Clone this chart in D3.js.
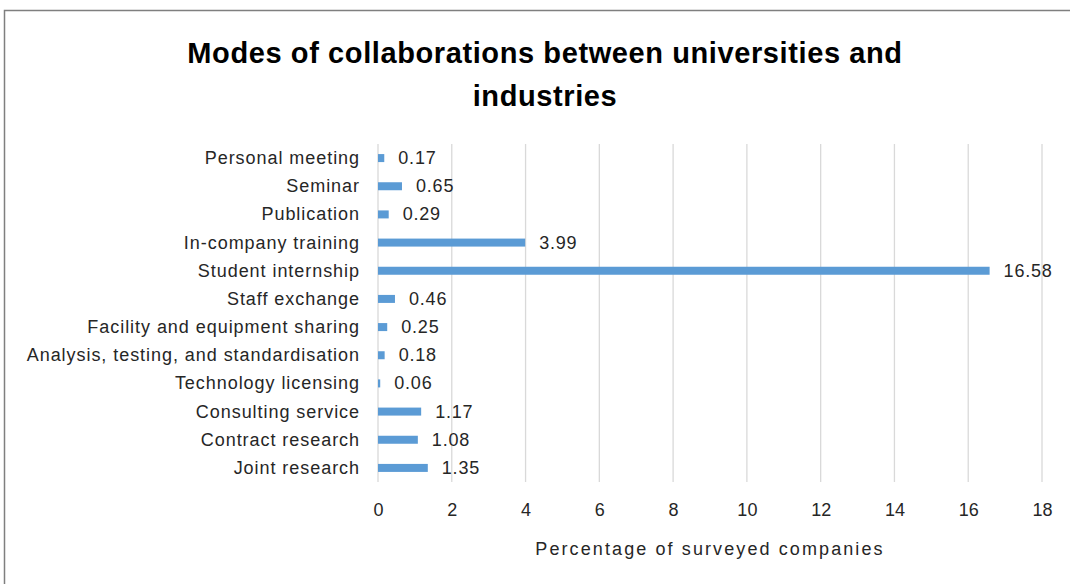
<!DOCTYPE html>
<html><head><meta charset="utf-8">
<script src="https://cdn.jsdelivr.net/npm/d3@7"></script>
<style>body{margin:0;background:#fff}svg{display:block}</style>
</head><body>
<script>
const categories = ["Personal meeting","Seminar","Publication","In-company training","Student internship","Staff exchange","Facility and equipment sharing","Analysis, testing, and standardisation","Technology licensing","Consulting service","Contract research","Joint research"];
const values = [0.17,0.65,0.29,3.99,16.58,0.46,0.25,0.18,0.06,1.17,1.08,1.35];
const xTicks = [0,2,4,6,8,10,12,14,16,18];
const titleLines = ["Modes of collaborations between universities and","industries"];
const xTitle = "Percentage of surveyed companies";

const W=1070,H=584;
const svg=d3.select("body").append("svg").attr("width",W).attr("height",H);
svg.append("rect").attr("x",4.5).attr("y",10.5).attr("width",1070).attr("height",600).attr("fill","#fff").attr("stroke","#7f7f7f").attr("stroke-width",1.5);

const font="'Liberation Sans', Arial, sans-serif";
const x=d3.scaleLinear().domain([0,18]).range([378,1042]);
const y=d3.scaleBand().domain(categories).range([144,482]).paddingInner(0.72).paddingOuter(0.36);

// title
svg.selectAll("text.title").data(titleLines).enter().append("text")
 .attr("x",545).attr("y",(d,i)=>63+i*43).attr("text-anchor","middle")
 .attr("font-family",font).attr("font-weight","bold").attr("font-size",29).attr("letter-spacing",0.6).attr("fill","#000")
 .text(d=>d);

// gridlines
svg.append("g").selectAll("line").data(xTicks).enter().append("line")
 .attr("x1",d=>x(d)).attr("x2",d=>x(d)).attr("y1",144).attr("y2",482)
 .attr("stroke","#d9d9d9").attr("stroke-width",1.3);

// bars
svg.append("g").selectAll("rect").data(values).enter().append("rect")
 .attr("x",x(0)).attr("y",(d,i)=>y(categories[i])+y.bandwidth()/2-4)
 .attr("width",d=>x(d)-x(0)).attr("height",8).attr("fill","#5b9bd5");

// value labels
svg.append("g").selectAll("text").data(values).enter().append("text")
 .attr("x",d=>x(d)+14).attr("y",(d,i)=>y(categories[i])+y.bandwidth()/2+6)
 .attr("font-family",font).attr("font-size",18).attr("letter-spacing",0.8).attr("fill","#262626")
 .text(d=>d.toFixed(2));

// category labels
svg.append("g").selectAll("text").data(categories).enter().append("text")
 .attr("x",360).attr("y",d=>y(d)+y.bandwidth()/2+6).attr("text-anchor","end")
 .attr("font-family",font).attr("font-size",18).attr("letter-spacing",0.95).attr("fill","#262626")
 .text(d=>d);

// x axis tick labels
const ax=svg.append("g").attr("transform","translate(0,482)")
 .call(d3.axisBottom(x).tickValues(xTicks).tickSize(0).tickPadding(21).tickFormat(d3.format("d")));
ax.select(".domain").remove();
ax.selectAll("text").attr("font-family",font).attr("font-size",18).attr("fill","#262626");

svg.append("text").attr("x",710).attr("y",555).attr("text-anchor","middle")
 .attr("font-family",font).attr("font-size",18).attr("letter-spacing",2.1).attr("fill","#262626").text(xTitle);
</script>
</body></html>
